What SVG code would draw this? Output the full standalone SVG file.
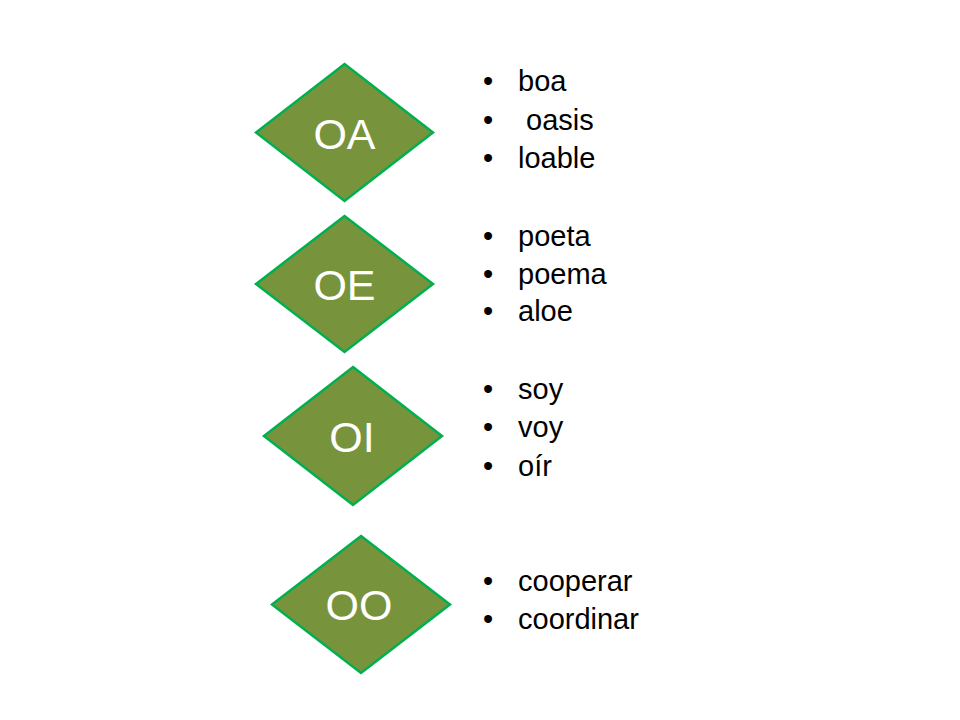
<svg xmlns="http://www.w3.org/2000/svg" width="960" height="720" viewBox="0 0 960 720">
<style>
.d{fill:#77933C;stroke:#00B050;stroke-width:2.5;stroke-linejoin:miter}
.lbl{font-family:"Liberation Sans",Arial,sans-serif;font-size:43px;fill:#FFFFFF;text-anchor:middle}
.it{font-family:"Liberation Sans",Arial,sans-serif;font-size:29px;fill:#000000;white-space:pre}
.b{font-family:"Liberation Sans",Arial,sans-serif;font-size:29px;fill:#000000;text-anchor:middle}
</style>
<rect width="960" height="720" fill="#FFFFFF"/>
<g id="connectors"></g>
<g id="node-oa">
<polygon class="d" points="344.5,64 433,132.5 344.5,201 256,132.5"/>
<text class="lbl" x="344.5" y="149">OA</text>
<text class="b" x="488" y="91">•</text><text class="it" x="518" y="91">boa</text>
<text class="b" x="488" y="129.5">•</text><text class="it" x="518" y="129.5"> oasis</text>
<text class="b" x="488" y="168">•</text><text class="it" x="518" y="168">loable</text>
</g>
<g id="node-oe">
<polygon class="d" points="344.5,216 433,284 344.5,352 256,284"/>
<text class="lbl" x="344.5" y="300">OE</text>
<text class="b" x="488" y="246">•</text><text class="it" x="518" y="246">poeta</text>
<text class="b" x="488" y="283.5">•</text><text class="it" x="518" y="283.5">poema</text>
<text class="b" x="488" y="321">•</text><text class="it" x="518" y="321">aloe</text>
</g>
<g id="node-oi">
<polygon class="d" points="353,367 442,436 353,505 264,436"/>
<text class="lbl" x="352" y="451.5">OI</text>
<text class="b" x="488" y="398.5">•</text><text class="it" x="518" y="398.5">soy</text>
<text class="b" x="488" y="437">•</text><text class="it" x="518" y="437">voy</text>
<text class="b" x="488" y="475.5">•</text><text class="it" x="518" y="475.5">oír</text>
</g>
<g id="node-oo">
<polygon class="d" points="361,536 450,604.5 361,673 272,604.5"/>
<text class="lbl" x="359" y="620">OO</text>
<text class="b" x="488" y="591">•</text><text class="it" x="518" y="591">cooperar</text>
<text class="b" x="488" y="629">•</text><text class="it" x="518" y="629">coordinar</text>
</g>
</svg>
